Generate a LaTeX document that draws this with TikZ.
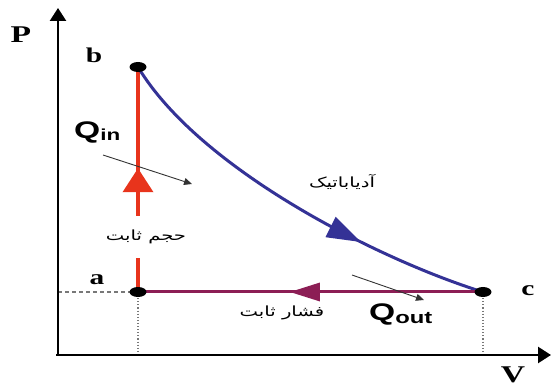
\documentclass[tikz,border=0pt]{standalone}
\usepackage{fontspec}
\setmainfont{Liberation Serif}
\newfontfamily\arabicfont[Script=Arabic]{DejaVu Sans}
\newfontfamily\qfont{Liberation Sans}
\TeXXeTstate=1
\usetikzlibrary{arrows.meta,decorations.markings,shapes.geometric}
\definecolor{pvred}{RGB}{232,52,28}
\definecolor{pvblue}{RGB}{52,50,150}
\definecolor{pvpurple}{RGB}{140,30,85}
\definecolor{guide}{RGB}{120,120,120}
\newcommand{\widetxt}[1]{\scalebox{1.4}[1]{#1}}
\tikzset{
  axisline/.style={line width=2.6pt, -{Triangle[width=16pt,length=13pt]}},
  dotnode/.style={ellipse, fill=black, minimum width=17pt, minimum height=10pt, inner sep=0pt},
  ptlabel/.style={font=\bfseries\fontsize{21}{21}\selectfont, inner sep=0pt},
  biglabel/.style={font=\bfseries\fontsize{24}{24}\selectfont, inner sep=0pt},
  fa/.style={font=\arabicfont\fontsize{14}{16}\selectfont},
  guideline/.style={guide, line width=1.1pt},
  heatarrow/.style={line width=0.9pt, black!80, -{Triangle[width=7pt,length=8pt]}},
  qlabel/.style={font=\qfont\bfseries\fontsize{24}{24}\selectfont, inner sep=0pt}
}
\begin{document}
\begin{tikzpicture}[x=1pt,y=-1pt]
\useasboundingbox (0,0) rectangle (552,387);
% key points
\coordinate (O) at (58,355);
\coordinate (O2) at (56,355);
\coordinate (ytop) at (58,8);
\coordinate (xend) at (551,355);
\coordinate (a) at (138,292);
\coordinate (b) at (138,67);
\coordinate (c) at (483,292);
\coordinate (aax) at (58,292);
\coordinate (abot) at (138,355);
\coordinate (cbot) at (483,355);
% guides
\draw[guideline, dashed, dash pattern=on 4pt off 3pt] (aax) -- (a);
\draw[guideline, dotted] (a) -- (abot);
\draw[guideline, dotted] (c) -- (cbot);
% axes
\draw[axisline] (O) -- (ytop);
\draw[axisline] (O2) -- (xend);
% isochoric a -> b
\draw[pvred, line width=4pt, postaction={decorate},
  decoration={markings, mark=at position 0.55 with {\arrow{Triangle[width=30pt,length=24pt]}}}] (a) -- (b);
\node[fa, fill=white, inner xsep=2pt, minimum height=42pt] (lv) at (146,237) {\widetxt{\beginR حجم ثابت\endR}};
% adiabatic b -> c
\draw[pvblue, line width=3pt, postaction={decorate},
  decoration={markings, mark=at position 0.685 with {\arrow{Triangle[width=22pt,length=34pt]}}}]
  (b) .. controls (200,170) and (380,260) .. (c);
% isobaric c -> a
\draw[pvpurple, line width=3pt, postaction={decorate},
  decoration={markings, mark=at position 0.56 with {\arrow{Triangle[width=18pt,length=30pt]}}}] (c) -- (a);
% points
\node[dotnode] (na) at (a) {};
\node[dotnode] (nb) at (b) {};
\node[dotnode] (nc) at (c) {};
% labels
\node[biglabel] (lP) at (21,35) {\widetxt{P}};
\node[ptlabel] (lb) at (94,55) {\widetxt{b}};
\node[ptlabel] (la) at (97,280) {\widetxt{a}};
\node[ptlabel] (lc) at (528,291) {\widetxt{c}};
\node[biglabel] (lV) at (513,375) {\widetxt{V}};
\node[fa] (lad) at (342,182) {\widetxt{\beginR آدیاباتیک\endR}};
\node[fa] (lp) at (282,313) {\widetxt{\beginR فشار ثابت\endR}};
% heat
\node[qlabel, anchor=west] (qin) at (74,132) {\widetxt{Q\raisebox{-2pt}{\fontsize{16}{16}\selectfont in}}};
\node[qlabel, anchor=west] (qout) at (369,314) {\widetxt{Q\raisebox{-3pt}{\fontsize{17}{17}\selectfont out}}};
\coordinate (qi1) at (103,155);
\coordinate (qi2) at (192,184);
\coordinate (qo1) at (352,275);
\coordinate (qo2) at (424,300);
\draw[heatarrow] (qi1) -- (qi2);
\draw[heatarrow] (qo1) -- (qo2);
\end{tikzpicture}
\end{document}
